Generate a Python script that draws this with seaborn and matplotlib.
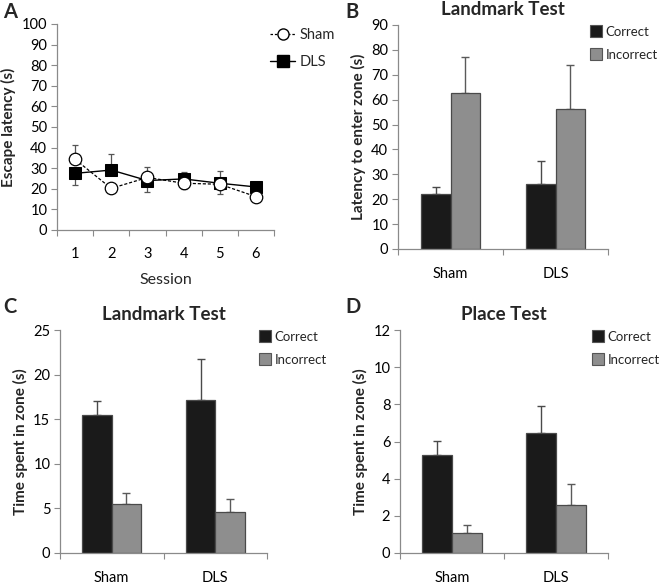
import numpy as np
import pandas as pd
import matplotlib
matplotlib.use("Agg")
import matplotlib.pyplot as plt
from matplotlib.lines import Line2D
from matplotlib.ticker import FixedLocator
import seaborn as sns

# ---------------- data ----------------
sessions = [1, 2, 3, 4, 5, 6]
sham_latency = [34.3, 20.2, 25.5, 22.7, 22.2, 16.2]
sham_err_up = [7.0, 0.0, 4.9, 0.0, 0.0, 0.0]
sham_err_down = [0.0, 0.0, 0.0, 2.9, 4.8, 0.0]
dls_latency = [27.5, 29.1, 24.0, 24.8, 22.7, 20.9]
dls_err_up = [0.0, 7.6, 0.0, 3.3, 5.7, 0.0]
dls_err_down = [5.7, 0.0, 5.6, 0.0, 0.0, 0.0]

groups = ["Sham", "DLS"]
zones = ["Correct", "Incorrect"]

# B: latency to enter zone (Landmark test)
b_correct = [22.0, 26.3]
b_correct_err = [2.8, 9.2]
b_incorrect = [62.8, 56.4]
b_incorrect_err = [14.2, 17.4]

# C: time spent in zone (Landmark test)
c_correct = [15.5, 17.1]
c_correct_err = [1.5, 4.7]
c_incorrect = [5.5, 4.6]
c_incorrect_err = [1.2, 1.5]

# D: time spent in zone (Place test)
d_correct = [5.25, 6.45]
d_correct_err = [0.8, 1.45]
d_incorrect = [1.1, 2.6]
d_incorrect_err = [0.4, 1.1]

# ---------------- style ----------------
sns.set_theme(style="white")
plt.rcParams["font.family"] = ["Lato", "DejaVu Sans"]
plt.rcParams["axes.edgecolor"] = "#8a8a8a"
plt.rcParams["xtick.color"] = "#8a8a8a"
plt.rcParams["ytick.color"] = "#8a8a8a"
plt.rcParams["xtick.labelcolor"] = "black"
plt.rcParams["ytick.labelcolor"] = "black"

W, H = 661, 585
fig = plt.figure(figsize=(W / 100, H / 100), dpi=100)


def ax_px(left, top, right, bottom):
    return fig.add_axes([left / W, 1 - bottom / H, (right - left) / W, (bottom - top) / H])


def style_axes(ax, xpad):
    sns.despine(ax=ax)
    ax.spines["left"].set_linewidth(0.9)
    ax.spines["bottom"].set_linewidth(0.9)
    ax.tick_params(axis="y", direction="out", length=4, width=0.8, labelsize=10.5, pad=3, left=True)
    ax.tick_params(axis="x", which="major", length=0, labelsize=10.5, pad=xpad)
    ax.tick_params(axis="x", which="minor", direction="out", length=4, width=0.8, bottom=True)


COL = {"Correct": "#1a1a1a", "Incorrect": "#8e8e8e"}

# ---------------- panel A ----------------
axA = ax_px(57, 24, 274, 230)
dfA = pd.DataFrame({
    "Session": sessions * 2,
    "Latency": sham_latency + dls_latency,
    "Group": ["Sham"] * 6 + ["DLS"] * 6,
})
for g, up, dn in [("Sham", sham_err_up, sham_err_down), ("DLS", dls_err_up, dls_err_down)]:
    vals = dfA[dfA.Group == g]["Latency"].to_numpy()
    axA.errorbar(sessions, vals, yerr=[dn, up], fmt="none", ecolor="#555555",
                 elinewidth=0.9, capsize=2.5, capthick=0.9, zorder=1)
sns.lineplot(data=dfA[dfA.Group == "Sham"], x="Session", y="Latency", ax=axA,
             color="black", linestyle=(0, (2.5, 1.5)), linewidth=0.9, marker="o",
             markersize=9, markerfacecolor="white", markeredgecolor="black",
             markeredgewidth=0.9, zorder=3)
sns.lineplot(data=dfA[dfA.Group == "DLS"], x="Session", y="Latency", ax=axA,
             color="black", linestyle="-", linewidth=1.0, marker="s",
             markersize=9, markerfacecolor="black", markeredgecolor="black", zorder=2)
axA.set_xlim(0.5, 6.5)
axA.set_ylim(0, 100)
axA.set_yticks(range(0, 101, 10))
axA.set_xticks(sessions)
axA.xaxis.set_minor_locator(FixedLocator(np.arange(0.5, 6.6, 1)))
style_axes(axA, 12)
axA.set_xlabel("Session", fontsize=11.5, labelpad=9)
axA.set_ylabel("Escape latency (s)", fontsize=11, fontweight="bold", labelpad=4)
handlesA = [
    Line2D([], [], color="black", linestyle=(0, (2, 1.5)), linewidth=0.9, marker="o",
           markersize=8, markerfacecolor="white", markeredgecolor="black"),
    Line2D([], [], color="black", linestyle="-", linewidth=1.0, marker="s",
           markersize=8, markerfacecolor="black"),
]
axA.legend(handlesA, ["Sham", "DLS"], loc="upper left", bbox_to_anchor=(263 / W, 1 - 21 / H),
           bbox_transform=fig.transFigure, frameon=False, fontsize=10.5,
           handlelength=1.7, handletextpad=0.3, labelspacing=0.85, borderpad=0)


# ---------------- bar panels ----------------
def bar_panel(box, correct, correct_err, incorrect, incorrect_err, ymax, ystep,
              ylabel, title, legend_xy):
    ax = ax_px(*box)
    df = pd.DataFrame({
        "Group": groups * 2,
        "Zone": ["Correct"] * 2 + ["Incorrect"] * 2,
        "Value": correct + incorrect,
    })
    sns.barplot(data=df, x="Group", y="Value", hue="Zone", order=groups, hue_order=zones,
                palette=COL, errorbar=None, width=0.57, edgecolor="#4a4a4a",
                linewidth=0.9, ax=ax, legend=False, saturation=1)
    errs = {"Correct": correct_err, "Incorrect": incorrect_err}
    vals = {"Correct": correct, "Incorrect": incorrect}
    for cont, z in zip(ax.containers, zones):
        for i, p in enumerate(cont.patches):
            xc = p.get_x() + p.get_width() / 2
            ax.errorbar([xc], [vals[z][i]], yerr=[[0], [errs[z][i]]], fmt="none",
                        ecolor="#4a4a4a" if z == "Correct" else "#5a5a5a",
                        elinewidth=1.0, capsize=2.8, capthick=1.0, zorder=0)
    ax.set_xlim(-0.5, 1.5)
    ax.set_ylim(0, ymax)
    ax.set_yticks(np.arange(0, ymax + 0.001, ystep))
    ax.xaxis.set_minor_locator(FixedLocator([-0.5, 0.5, 1.5]))
    style_axes(ax, 13)
    ax.set_xlabel("")
    ax.set_ylabel(ylabel, fontsize=11, fontweight="bold", labelpad=4)
    ax.set_title(title, fontsize=13.5, fontweight="bold", pad=7)
    handles = [Line2D([], [], linestyle="none", marker="s", markersize=8,
                      markerfacecolor=COL[z], markeredgecolor="#555555", markeredgewidth=0.8)
               for z in zones]
    ax.legend(handles, zones, loc="upper left", bbox_to_anchor=(legend_xy[0] / W, 1 - legend_xy[1] / H),
              bbox_transform=fig.transFigure, frameon=False, fontsize=9.5,
              handlelength=0.6, handletextpad=0.45, labelspacing=0.85, borderpad=0)
    return ax


axB = bar_panel((398, 25, 608, 249), b_correct, b_correct_err, b_incorrect, b_incorrect_err,
                90, 10, "Latency to enter zone (s)", "Landmark Test", (585, 19))
axC = bar_panel((60, 330, 267, 553), c_correct, c_correct_err, c_incorrect, c_incorrect_err,
                25, 5, "Time spent in zone (s)", "Landmark Test", (254, 324))
axD = bar_panel((400, 330, 608, 553), d_correct, d_correct_err, d_incorrect, d_incorrect_err,
                12, 2, "Time spent in zone (s)", "Place Test", (587, 324))

# panel letters
for letter, (x, y) in zip("ABCD", [(3, 2), (345, 2), (3, 297), (345, 297)]):
    fig.text(x / W, 1 - y / H, letter, fontsize=14.5, fontweight="bold", va="top", ha="left")

fig.savefig("out.png", dpi=100)
